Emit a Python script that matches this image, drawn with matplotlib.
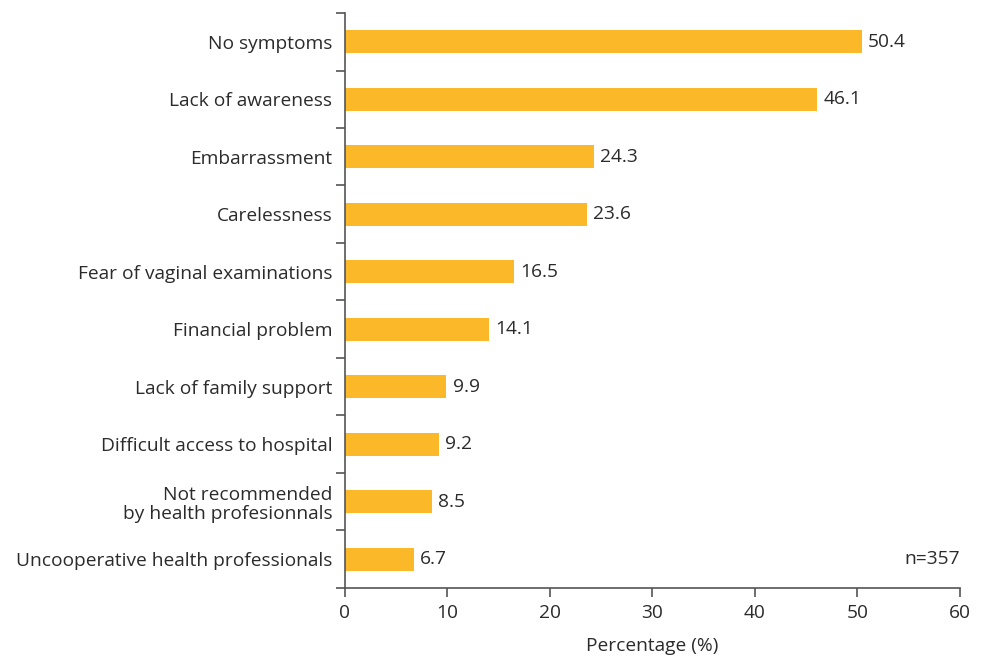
import numpy as np
import matplotlib
matplotlib.use("Agg")
import matplotlib.pyplot as plt

categories = [
    "No symptoms",
    "Lack of awareness",
    "Embarrassment",
    "Carelessness",
    "Fear of vaginal examinations",
    "Financial problem",
    "Lack of family support",
    "Difficult access to hospital",
    "Not recommended\nby health profesionnals",
    "Uncooperative health professionals",
]
values = [50.4, 46.1, 24.3, 23.6, 16.5, 14.1, 9.9, 9.2, 8.5, 6.7]
x_ticks = [0, 10, 20, 30, 40, 50, 60]

plt.rcParams["font.family"] = ["Open Sans", "DejaVu Sans"]
text_c = "#2b2b2b"
axis_c = "#555555"
bar_c = "#FBB829"
fs = 13.8

fig = plt.figure(figsize=(9.87, 6.6), dpi=100)
ax = fig.add_axes([0.3495, 0.1091, 0.6231, 0.8712])

n = len(categories)
y = np.arange(n)[::-1]
ax.barh(y, values, height=0.4, color=bar_c)
for yi, v in zip(y, values):
    ax.text(v + 0.6, yi, f"{v:.1f}", va="center", ha="left", fontsize=fs, color=text_c)

ax.set_xlim(0, 60)
ax.set_ylim(-0.5, n - 0.5)
ax.set_xticks(x_ticks)
ax.set_xticklabels([str(t) for t in x_ticks], fontsize=fs, color=text_c)
ax.set_yticks(y)
ax.set_yticklabels(categories, fontsize=fs, color=text_c, linespacing=1.1)
ax.set_yticks(np.arange(-0.5, n, 1), minor=True)
ax.tick_params(axis="y", which="major", length=0, pad=9)
ax.tick_params(axis="y", which="minor", length=6.5, width=1.2, color=axis_c)
ax.tick_params(axis="x", length=6.5, width=1.2, color=axis_c, pad=5)

for s in ["top", "right"]:
    ax.spines[s].set_visible(False)
for s in ["left", "bottom"]:
    ax.spines[s].set_color(axis_c)
    ax.spines[s].set_linewidth(1.2)

ax.set_xlabel("Percentage (%)", fontsize=fs, color=text_c, labelpad=11)
ax.text(60, 0, "n=357", ha="right", va="center", fontsize=fs, color=text_c)

fig.savefig("out.png", dpi=100)
